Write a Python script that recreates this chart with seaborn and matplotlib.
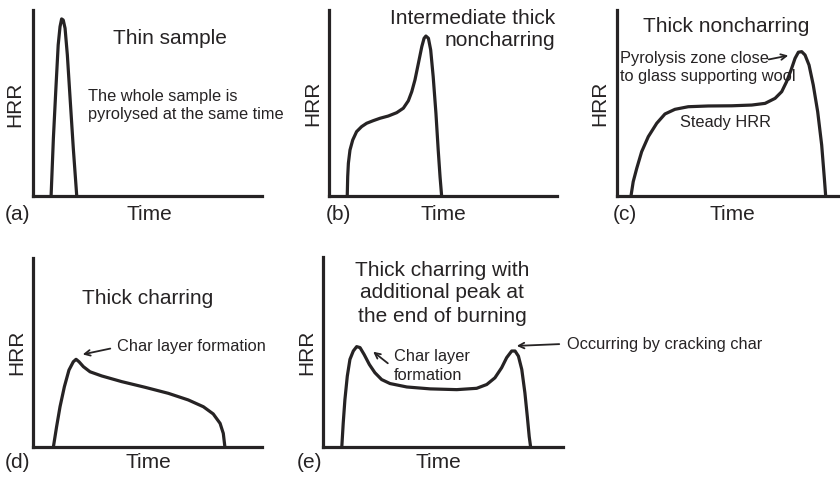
import matplotlib
matplotlib.use("Agg")
import matplotlib.pyplot as plt
import seaborn as sns
import pandas as pd

sns.set_style("white")
plt.rcParams["font.family"] = ["Liberation Sans", "DejaVu Sans"]

# ---- data (arbitrary units: time 0-100, HRR 0-100) ----
a_time = [7.9, 8.9, 10.0, 11.0, 11.8, 12.5, 13.2, 14.0, 15.0, 16.2, 17.6, 19.1]
a_hrr = [0, 31.0, 57.9, 81.2, 91.0, 95.2, 94.6, 90.2, 75.8, 52.5, 25.6, 0]

b_time = [8.0, 8.2, 8.5, 9.2, 10.4, 12.1, 14.3, 16.5, 19.4, 22.4, 26.0, 29.7,
          32.6, 34.8, 36.3, 37.7, 39.2, 40.7, 41.7, 42.5, 43.6, 44.6, 45.7,
          46.9, 47.9, 48.7, 49.4]
b_hrr = [0, 10.4, 17.6, 24.7, 30.1, 34.6, 37.3, 39.1, 40.5, 41.8, 43.0, 44.8,
         47.2, 51.2, 56.1, 62.4, 71.3, 80.3, 84.8, 86.0, 84.8, 78.5, 64.1,
         44.5, 24.7, 10.4, 0]

c_time = [6.3, 7.3, 8.9, 11.1, 14.1, 17.9, 21.6, 26.1, 32.1, 41.1, 51.7, 60.7,
          66.7, 71.2, 74.2, 76.4, 78.4, 80.2, 81.7, 83.2, 84.7, 86.5, 88.4,
          90.4, 92.2, 93.4, 94.0]
c_hrr = [0, 7.7, 14.9, 23.8, 31.9, 39.1, 44.1, 46.6, 48.0, 48.4, 48.5, 48.9,
         49.8, 52.5, 56.1, 61.5, 67.7, 74.0, 77.3, 77.6, 75.8, 70.4, 59.7,
         45.3, 27.4, 9.5, 0]

d_time = [8.9, 10.3, 11.8, 13.7, 15.7, 17.6, 18.8, 20.1, 22.0, 24.9, 30.0,
          38.7, 48.9, 59.1, 67.8, 74.4, 78.7, 81.7, 83.1, 83.8]
d_hrr = [0, 10.7, 21.3, 31.9, 40.7, 45.1, 46.4, 45.1, 42.5, 39.8, 37.6,
         34.6, 31.6, 28.4, 24.9, 21.3, 17.5, 12.5, 7.2, 0]

e_time = [7.7, 8.3, 9.0, 10.0, 11.1, 12.5, 13.9, 15.3, 17.0, 19.2, 21.5, 24.3,
          27.8, 34.8, 44.5, 55.6, 63.9, 68.1, 71.5, 74.3, 76.4, 78.5, 79.9,
          81.3, 82.7, 84.0, 85.0, 85.8, 86.4]
e_hrr = [0, 12.7, 25.0, 37.4, 46.2, 50.6, 52.9, 52.4, 48.8, 43.5, 39.2, 35.6,
         33.5, 31.7, 30.7, 30.3, 31.0, 33.0, 36.5, 41.8, 47.1, 50.6, 50.6,
         47.9, 40.9, 28.6, 16.2, 5.6, 0]

panel_letters = ["(a)", "(b)", "(c)", "(d)", "(e)"]
x_label = "Time"
y_label = "HRR"

W, H = 840, 478
fig = plt.figure(figsize=(W / 100, H / 100), dpi=100)
fig.patch.set_facecolor("white")

INK = "#262324"
LW = 2.3

# axes boxes in pixel coords: left, top, right, bottom
boxes = [
    (33, 10, 262, 196),
    (329, 10, 557, 196),
    (617, 10, 839, 196),
    (33, 258, 262, 447),
    (323.3, 257, 563.3, 447.3),
]
series = [(a_time, a_hrr), (b_time, b_hrr), (c_time, c_hrr),
          (d_time, d_hrr), (e_time, e_hrr)]

for (l, t, r, b), (xs, ys) in zip(boxes, series):
    ax = fig.add_axes([l / W, 1 - b / H, (r - l) / W, (b - t) / H])
    df = pd.DataFrame({"Time": xs, "HRR": ys})
    sns.lineplot(data=df, x="Time", y="HRR", ax=ax, sort=False, estimator=None,
                 color=INK, lw=LW, solid_capstyle="round", solid_joinstyle="round")
    for ln in ax.lines:
        ln.set_clip_on(False)
    ax.set_xlim(0, 100)
    ax.set_ylim(0, 100)
    ax.set_xlabel("")
    ax.set_ylabel("")
    ax.set_xticks([])
    ax.set_yticks([])
    ax.set_facecolor("none")
    for s in ["top", "right"]:
        ax.spines[s].set_visible(False)
    for s in ["left", "bottom"]:
        ax.spines[s].set_linewidth(LW)
        ax.spines[s].set_color(INK)


def T(x, y, s, size=15, ha="center", va="center", rot=0):
    fig.text(x / W, 1 - y / H, s, fontsize=size, ha=ha, va=va, rotation=rot,
             color=INK)


def A(x0, y0, x1, y1):
    fig.add_artist(matplotlib.patches.FancyArrowPatch(
        (x0 / W, 1 - y0 / H), (x1 / W, 1 - y1 / H), transform=fig.transFigure,
        arrowstyle="->", mutation_scale=10, lw=1.3, color=INK))


BIG = 15
SMALL = 11.8

# axis labels and panel letters
hrr_pos = [(15, 104), (313, 103), (600, 103), (17, 352), (307, 352)]
let_pos = [(18, 215), (338, 215), (625, 215), (18, 463), (309, 463)]
time_pos = [(149, 215), (443, 215), (732, 215), (148, 463), (438, 463)]
for (hx, hy), (lx, ly), (tx, ty), let in zip(hrr_pos, let_pos, time_pos, panel_letters):
    T(hx, hy, y_label, BIG, rot=90)
    T(lx, ly, let, BIG)
    T(tx, ty, x_label, BIG)

# (a)
T(170, 38, "Thin sample", BIG)
T(88, 96, "The whole sample is", SMALL, ha="left")
T(88, 115, "pyrolysed at the same time", SMALL, ha="left")

# (b)
T(555, 19, "Intermediate thick", BIG, ha="right")
T(555, 41, "noncharring", BIG, ha="right")

# (c)
T(726, 27, "Thick noncharring", BIG)
T(620, 59, "Pyrolysis zone close", SMALL, ha="left")
T(620, 77, "to glass supporting wool", SMALL, ha="left")
A(766, 60, 791, 55)
T(725, 122, "Steady HRR", SMALL)

# (d)
T(148, 298, "Thick charring", BIG)
T(117, 347, "Char layer formation", SMALL, ha="left")
A(113, 348, 80, 355)

# (e)
T(442, 270, "Thick charring with", BIG)
T(442, 293, "additional peak at", BIG)
T(442, 316, "the end of burning", BIG)
T(394, 356, "Char layer", SMALL, ha="left")
T(394, 375, "formation", SMALL, ha="left")
A(390, 365, 371, 350)
T(567, 344, "Occurring by cracking char", SMALL, ha="left")
A(562, 344, 514, 346)

fig.savefig("out.png", dpi=100, facecolor="white")
